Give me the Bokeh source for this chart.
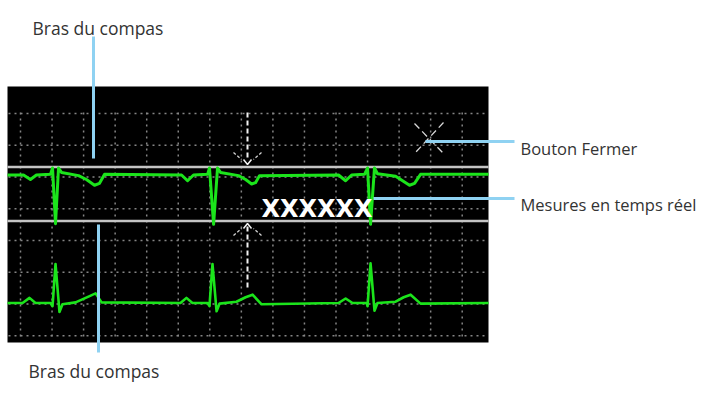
from bokeh.plotting import figure
from bokeh.models import Range1d, ColumnDataSource
from bokeh.core.properties import value
from bokeh.embed import file_html
from bokeh.resources import INLINE

# ---------------- data ----------------
# upper lead (inverted complexes), time in ms, amplitude in mV
top_t = [-82, 19, 63, 101, 190, 203, 222, 241, 260, 368, 418, 469, 501, 533,
         1021, 1059, 1097, 1186, 1198, 1224, 1249, 1268, 1382, 1427, 1465, 1490, 1515,
         2016, 2061, 2099, 2181, 2200, 2219, 2244, 2263, 2378, 2422, 2466, 2498, 2536, 2967]
top_mv = [0, 0, -0.07, 0, 0.01, 0.11, -0.76, 0.11, 0.04, -0.01, -0.07, -0.16, -0.13, 0.01,
          0, -0.09, 0, 0.01, 0.11, -0.77, 0.11, 0.04, -0.01, -0.07, -0.14, -0.12, -0.01,
          0, -0.09, 0, 0.01, 0.11, -0.77, 0.11, 0.02, -0.02, -0.09, -0.16, -0.13, 0.01, 0.01]

# lower lead (upright complexes)
bot_t = [-82, 13, 57, 95, 190, 203, 222, 247, 266, 349, 431, 476, 514,
         1014, 1052, 1090, 1186, 1198, 1217, 1243, 1262, 1369, 1427, 1471, 1528,
         2016, 2061, 2105, 2194, 2200, 2219, 2244, 2263, 2378, 2429, 2473, 2536, 2967]
bot_mv = [0, 0, 0.08, 0, 0, -0.05, 0.61, -0.14, -0.02, 0.01, 0.10, 0.15, 0.01,
          0, 0.08, 0, 0, -0.05, 0.61, -0.13, -0.01, 0.02, 0.09, 0.13, -0.02,
          0, 0.07, 0, 0, -0.05, 0.62, -0.12, 0, 0.02, 0.09, 0.13, -0.01, 0]

grid_ms = [0, 200, 400, 600, 800, 1000, 1200, 1400, 1600, 1800, 2000, 2200, 2400, 2600, 2800]

arm_labels = ["Bras du compas", "Bras du compas"]
side_labels = ["Bouton Fermer", "Mesures en temps réel"]
measure_text = "XXXXXX"

# ---------------- layout (pixel space) ----------------
W, H = 704, 383
PX_PER_MS = 0.15775
PX_PER_MV = 64.0
X0_PX = 20.0          # pixel of t = 0
TOP_BASE = 174.5      # pixel of 0 mV, upper lead
BOT_BASE = 302.5      # pixel of 0 mV, lower lead

p = figure(width=W, height=H, output_backend="svg", toolbar_location=None,
           x_range=Range1d(0, W), y_range=Range1d(H, 0),
           x_axis_type=None, y_axis_type=None, min_border=0)
p.outline_line_color = None
p.background_fill_color = "white"
p.border_fill_color = "white"

p.extra_x_ranges = {"ms": Range1d(-X0_PX / PX_PER_MS, (W - X0_PX) / PX_PER_MS)}
p.extra_y_ranges = {
    "top": Range1d((TOP_BASE - H) / PX_PER_MV, TOP_BASE / PX_PER_MV),
    "bot": Range1d((BOT_BASE - H) / PX_PER_MV, BOT_BASE / PX_PER_MV),
}

# black monitor panel
p.quad(left=[7], right=[488], top=[86], bottom=[342], fill_color="black", line_color=None)

# dotted grid
grid_color = "#858585"
p.segment(x0=grid_ms, x1=grid_ms, y0=[112] * len(grid_ms), y1=[339] * len(grid_ms),
          x_range_name="ms", line_color=grid_color, line_width=1.5, line_dash="2 4")
hy = [113 + 31.75 * k for k in range(8)]
p.segment(x0=[8] * len(hy), x1=[486] * len(hy), y0=hy, y1=hy,
          line_color=grid_color, line_width=1.5, line_dash="2 4")

# compass arms
p.segment(x0=[7, 7], x1=[488, 488], y0=[166.5, 220.5], y1=[166.5, 220.5],
          line_color="#c4c4c4", line_width=2.5)

# ECG traces
green = "#1be41b"
p.line(top_t, top_mv, x_range_name="ms", y_range_name="top", line_color=green,
       line_width=3, line_join="round")
p.line(bot_t, bot_mv, x_range_name="ms", y_range_name="bot", line_color=green,
       line_width=2.6, line_join="round")

# caliper dashed guide + arrows
white = "#f2f2f2"
p.segment(x0=[247, 247], x1=[247, 247], y0=[112, 226], y1=[160, 290],
          line_color=white, line_width=2, line_dash="5 3")
p.multi_line(xs=[[243, 247, 251], [243, 247, 251]], ys=[[159, 164, 159], [228, 223, 228]],
             line_color=white, line_width=1.5)
p.segment(x0=[233, 261, 233, 261], y0=[152, 152, 235, 235],
          x1=[241, 253, 241, 253], y1=[159, 159, 228, 228],
          line_color="#d0d0d0", line_width=1.3, line_dash="3 2")

# close button sparkle
p.segment(x0=[414, 443], y0=[123, 122], x1=[443, 414], y1=[153, 153],
          line_color="#d8d8d8", line_width=1.3, line_dash="7 4")

# measurement text
p.text(x=[261], y=[208], text=[measure_text], text_color="white",
       text_font=value("DejaVu Sans"), text_font_style="bold", text_font_size="24px",
       text_baseline="alphabetic", text_align="left")

# leader lines
blue = "#8fd2f2"
p.segment(x0=[93, 98, 425, 373], y0=[36, 224, 141, 198],
          x1=[93, 98, 514, 514], y1=[158, 352, 141, 198],
          line_color=blue, line_width=3)

# callout labels
src_arm = ColumnDataSource(dict(x=[32, 28], y=[27, 370], t=arm_labels))
p.text(x="x", y="y", text="t", source=src_arm, text_color="#333333",
       text_font=value("Open Sans"), text_font_size="17.5px",
       text_baseline="alphabetic", text_align="left")
src_side = ColumnDataSource(dict(x=[520, 520], y=[148, 204], t=side_labels))
p.text(x="x", y="y", text="t", source=src_side, text_color="#333333",
       text_font=value("Open Sans"), text_font_size="16.5px",
       text_baseline="alphabetic", text_align="left")

open("out.html", "w").write(file_html(p, INLINE))
